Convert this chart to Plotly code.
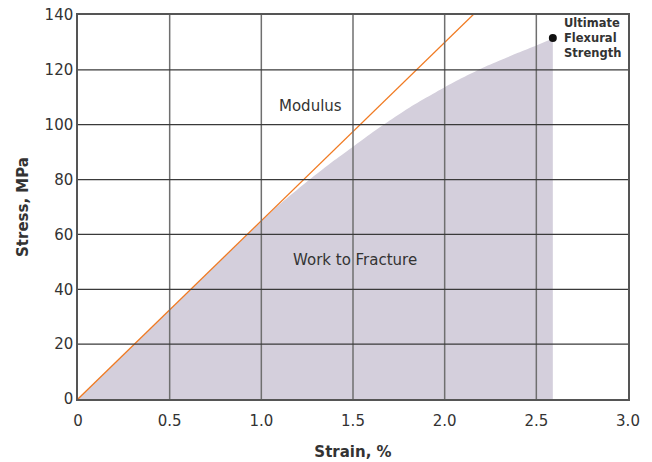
import plotly.graph_objects as go

# Data
strain = [0, 0.5, 1.0, 1.1, 1.2, 1.3, 1.4, 1.5, 1.6, 1.7, 1.8, 1.9, 2.0, 2.1, 2.2, 2.3, 2.4, 2.5, 2.59]
stress = [0, 32.5, 64.8, 71, 76.6, 81.9, 87.1, 92, 96.9, 101.5, 105.9, 109.9, 113.7, 117.2, 120.5, 123.4, 126.2, 128.9, 131.4]
modulus_x = [0, 2.3]
modulus_y = [0, 149.5]
uts_x = [2.59]
uts_y = [131.6]
x_ticks = [0, 0.5, 1.0, 1.5, 2.0, 2.5, 3.0]
x_labels = ["0", "0.5", "1.0", "1.5", "2.0", "2.5", "3.0"]
y_ticks = [0, 20, 40, 60, 80, 100, 120, 140]

FONT = "DejaVu Sans"
TXT = "#333333"

fig = go.Figure()
fig.add_trace(go.Scatter(x=strain, y=stress, mode="lines", fill="tozeroy",
                         fillcolor="#d4cfdc", line=dict(width=0, color="#d4cfdc", shape="spline", smoothing=0.6),
                         hoverinfo="skip", showlegend=False))
fig.add_trace(go.Scatter(x=modulus_x, y=modulus_y, mode="lines",
                         line=dict(color="#f07a22", width=1.3), showlegend=False))
fig.add_trace(go.Scatter(x=uts_x, y=uts_y, mode="markers",
                         marker=dict(color="#111111", size=8), showlegend=False))

shapes = []
for xv in x_ticks[1:-1]:
    shapes.append(dict(type="line", xref="x", yref="paper", x0=xv, x1=xv, y0=0, y1=1,
                       line=dict(color="#6f6f6f", width=1.5), layer="above"))
for yv in y_ticks[1:-1]:
    shapes.append(dict(type="line", xref="paper", yref="y", x0=0, x1=1, y0=yv, y1=yv,
                       line=dict(color="#3a3a3a", width=1.3), layer="above"))
fig.update_layout(shapes=shapes)

fig.add_annotation(x=1.27, y=107, text="Modulus", showarrow=False,
                   font=dict(family=FONT, size=15, color=TXT))
fig.add_annotation(x=1.51, y=50.7, text="Work to Fracture", showarrow=False,
                   font=dict(family=FONT, size=15, color=TXT))
fig.add_annotation(x=2.64, y=131.5, text="<b>Ultimate<br>Flexural<br>Strength</b>",
                   showarrow=False, xanchor="left", yanchor="middle", align="left",
                   font=dict(family=FONT, size=11.5, color=TXT))

fig.update_xaxes(range=[0, 3.0], tickvals=x_ticks, ticktext=x_labels, showgrid=False,
                 showline=True, linecolor="#555555", linewidth=1.5, mirror=True,
                 zeroline=False, ticks="", ticklabelstandoff=7, automargin=False,
                 tickfont=dict(family=FONT, size=15, color=TXT),
                 title=dict(text="<b>Strain, %</b>", standoff=18,
                            font=dict(family=FONT, size=15, color=TXT)))
fig.update_yaxes(range=[0, 140], tickvals=y_ticks, showgrid=False,
                 showline=True, linecolor="#555555", linewidth=1.5, mirror=True,
                 zeroline=False, ticks="", automargin=False,
                 tickfont=dict(family=FONT, size=15, color=TXT),
                 title=dict(text="<b>Stress, MPa</b>", standoff=12,
                            font=dict(family=FONT, size=15, color=TXT)))

fig.update_layout(width=652, height=462, margin=dict(l=78, r=24, t=15, b=63),
                  plot_bgcolor="white", paper_bgcolor="white",
                  font=dict(family=FONT, color=TXT))

fig.write_html("out.html", config={"displayModeBar": False},
               post_script="document.body.style.margin='0';document.body.style.overflow='hidden';")
